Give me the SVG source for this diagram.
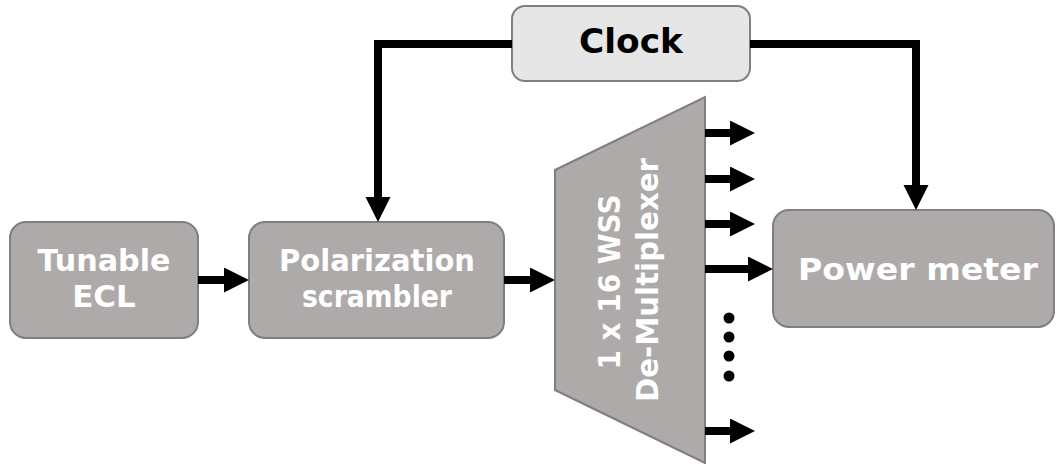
<svg xmlns="http://www.w3.org/2000/svg" width="1056" height="464" viewBox="0 0 1056 464">
<style>
.box{fill:#adaaa9;stroke:#7f7f7f;stroke-width:2}
.clk{fill:#e6e6e6;stroke:#7f7f7f;stroke-width:2}
.lbl{font-family:"DejaVu Sans","Open Sans",sans-serif;font-weight:bold;font-size:31px;fill:#ffffff;text-anchor:middle}
.lblk{font-family:"DejaVu Sans","Open Sans",sans-serif;font-weight:bold;font-size:33px;fill:#000000;text-anchor:middle}
.wire{fill:none;stroke:#000;stroke-width:8;marker-end:url(#ah)}
</style>
<defs>
<marker id="ah" markerUnits="userSpaceOnUse" markerWidth="26" markerHeight="26" refX="5" refY="12.5" orient="auto">
<path d="M0,0 L25,12.5 L0,25 z" fill="#000"/>
</marker>
</defs>
<g id="clock">
<rect class="clk" x="512" y="6" width="238" height="75" rx="13"/>
<text class="lblk" x="631" y="53" textLength="104" lengthAdjust="spacingAndGlyphs">Clock</text>
</g>
<g id="ecl">
<rect class="box" x="10" y="222" width="188" height="116" rx="16"/>
<text class="lbl" x="104" y="271" textLength="133" lengthAdjust="spacingAndGlyphs">Tunable</text>
<text class="lbl" x="104" y="307">ECL</text>
</g>
<g id="scrambler">
<rect class="box" x="249" y="222" width="255" height="116" rx="16"/>
<text class="lbl" x="377" y="271" textLength="196" lengthAdjust="spacingAndGlyphs">Polarization</text>
<text class="lbl" x="377" y="307" textLength="150" lengthAdjust="spacingAndGlyphs">scrambler</text>
</g>
<g id="wss">
<polygon class="box" points="555,170 705,97 705,463 555,390"/>
<text class="lbl" transform="translate(620,282) rotate(-90)" textLength="175" lengthAdjust="spacingAndGlyphs">1 x 16 WSS</text>
<text class="lbl" transform="translate(658,280) rotate(-90)" textLength="244" lengthAdjust="spacingAndGlyphs">De-Multiplexer</text>
</g>
<g id="powermeter">
<rect class="box" x="773" y="210" width="281" height="117" rx="16"/>
<text class="lbl" x="918" y="280" textLength="240" lengthAdjust="spacingAndGlyphs">Power meter</text>
</g>
<g id="connectors">
<path class="wire" d="M512,44 H378 V202"/>
<path class="wire" d="M750,44 H916 V190"/>
<path class="wire" d="M198,280 H229"/>
<path class="wire" d="M504,280 H535"/>
<path class="wire" d="M705,133 H735"/>
<path class="wire" d="M705,179 H735"/>
<path class="wire" d="M705,224 H735"/>
<path class="wire" d="M705,269 H753"/>
<path class="wire" d="M705,431 H735"/>
<circle cx="729" cy="318" r="5.5"/>
<circle cx="729" cy="337" r="5.5"/>
<circle cx="729" cy="356" r="5.5"/>
<circle cx="729" cy="376" r="5.5"/>
</g>
</svg>
